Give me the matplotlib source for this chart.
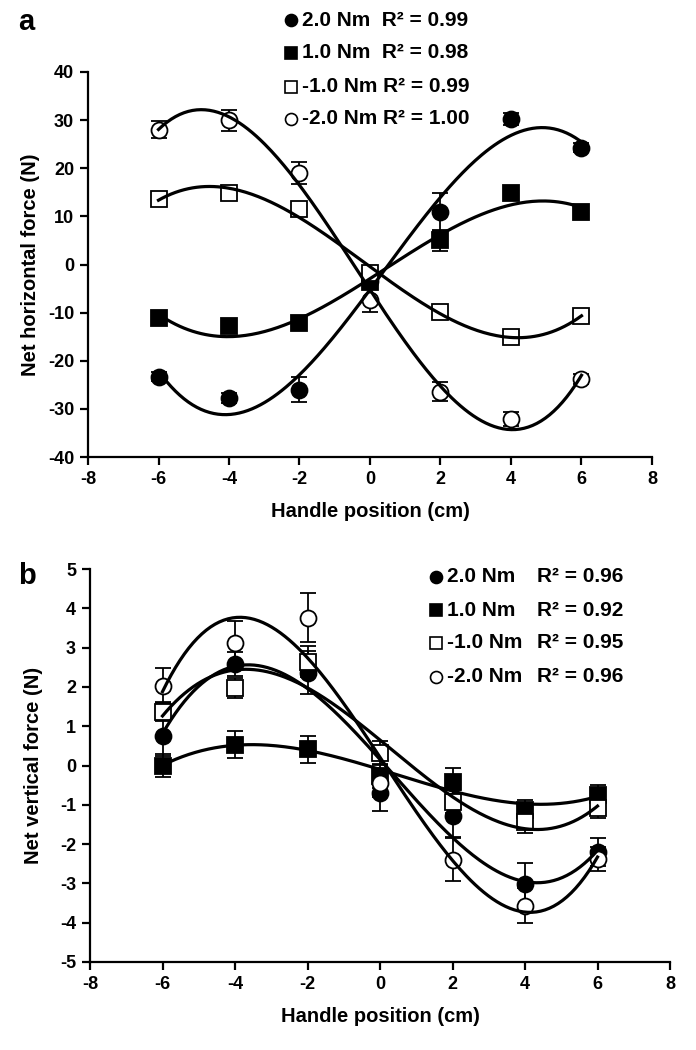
import numpy as np
import matplotlib
matplotlib.use("Agg")
import matplotlib.pyplot as plt
from matplotlib.lines import Line2D

plt.rcParams['font.family'] = ['Liberation Sans', 'DejaVu Sans']
plt.rcParams['font.weight'] = 'bold'
plt.rcParams['axes.unicode_minus'] = False

# ---------------- data ----------------
positions = [-6, -4, -2, 0, 2, 4, 6]
torques = ["2.0 Nm", "1.0 Nm", "-1.0 Nm", "-2.0 Nm"]

# panel a: net horizontal force (N)
horiz_p2 = [-23.3, -27.8, -26.0, -3.5, 10.9, 30.2, 24.3]
horiz_p1 = [-11.2, -12.8, -12.2, -3.6, 5.0, 14.8, 10.9]
horiz_m1 = [13.6, 14.8, 11.5, -1.8, -9.9, -15.1, -10.7]
horiz_m2 = [28.0, 30.0, 19.0, -7.4, -26.4, -32.1, -23.8]
horiz_err_p2 = [1.0, 1.0, 2.6, 1.0, 4.0, 1.2, 1.0]
horiz_err_p1 = [1.0, 1.0, 1.0, 1.0, 2.1, 1.0, 1.0]
horiz_err_m1 = [1.0, 1.0, 1.0, 1.0, 1.0, 1.0, 1.0]
horiz_err_m2 = [1.8, 2.2, 2.2, 2.5, 2.0, 1.5, 1.0]
r2_a = ["0.99", "0.98", "0.99", "1.00"]

# panel b: net vertical force (N)
vert_p2 = [0.74, 2.59, 2.36, -0.70, -1.28, -3.01, -2.20]
vert_p1 = [0.00, 0.53, 0.41, -0.26, -0.41, -1.13, -0.75]
vert_m1 = [1.37, 1.98, 2.64, 0.32, -0.92, -1.43, -1.08]
vert_m2 = [2.03, 3.12, 3.76, -0.44, -2.40, -3.57, -2.38]
vert_err_p2 = [0.50, 0.30, 0.55, 0.47, 0.55, 0.53, 0.35]
vert_err_p1 = [0.30, 0.35, 0.35, 0.30, 0.35, 0.25, 0.25]
vert_err_m1 = [0.25, 0.25, 0.40, 0.30, 0.30, 0.30, 0.25]
vert_err_m2 = [0.45, 0.55, 0.63, 0.35, 0.55, 0.45, 0.30]
r2_b = ["0.96", "0.92", "0.95", "0.96"]

markers = ['o', 's', 's', 'o']
fills = ['black', 'black', 'white', 'white']
msizes = [11.5, 11, 11, 11.5]

W, H = 696, 1050
fig = plt.figure(figsize=(W / 100, H / 100), dpi=100)


def draw_panel(ax, series, errs, ylim, yticks):
    x = np.array(positions, dtype=float)
    xs = np.linspace(x.min(), x.max(), 200)
    for i, (ys, es) in enumerate(zip(series, errs)):
        ys = np.array(ys)
        ax.errorbar(x, ys, yerr=es, fmt='none', ecolor='black', elinewidth=1.3,
                    capsize=5.5, capthick=1.3, zorder=2)
        ax.plot(x, ys, linestyle='none', marker=markers[i], markersize=msizes[i],
                markerfacecolor=fills[i], markeredgecolor='black', markeredgewidth=1.3,
                zorder=3)
        # third-order polynomial trend line (as in the original)
        coef = np.polyfit(x, ys, 3)
        ax.plot(xs, np.polyval(coef, xs), color='black', lw=2.3, zorder=4)
    ax.set_xlim(-8, 8)
    ax.set_xticks(range(-8, 9, 2))
    ax.set_ylim(*ylim)
    ax.set_yticks(yticks)
    for s in ['top', 'right']:
        ax.spines[s].set_visible(False)
    for s in ['left', 'bottom']:
        ax.spines[s].set_linewidth(1.6)
    ax.tick_params(direction='out', length=6, width=1.6, labelsize=13, pad=4)
    ax.set_xlabel("Handle position (cm)", fontsize=14.5, fontweight='bold', labelpad=10)


# panel a
axa = fig.add_axes([88 / W, 1 - 457 / H, (652 - 88) / W, (457 - 72) / H])
draw_panel(axa, [horiz_p2, horiz_p1, horiz_m1, horiz_m2],
           [horiz_err_p2, horiz_err_p1, horiz_err_m1, horiz_err_m2],
           (-40, 40), range(-40, 41, 10))
axa.set_ylabel("Net horizontal force (N)", fontsize=14.5, fontweight='bold', labelpad=6)

# panel b
axb = fig.add_axes([90 / W, 1 - 962 / H, (670 - 90) / W, (962 - 569) / H])
draw_panel(axb, [vert_p2, vert_p1, vert_m1, vert_m2],
           [vert_err_p2, vert_err_p1, vert_err_m1, vert_err_m2],
           (-5, 5), range(-5, 6, 1))
axb.set_ylabel("Net vertical force (N)", fontsize=14.5, fontweight='bold', labelpad=12)

fig.text(18 / W, 1 - 22 / H, "a", fontsize=21, fontweight='bold', va='center', ha='left')
fig.text(18 / W, 1 - 576 / H, "b", fontsize=21, fontweight='bold', va='center', ha='left')


def legend_rows(mx, tx, rx, ys, r2s):
    for i in range(4):
        y = 1 - ys[i] / H
        fig.add_artist(Line2D([mx / W], [y], marker=markers[i], markersize=msizes[i] * 0.75,
                              markerfacecolor=fills[i], markeredgecolor='black',
                              markeredgewidth=1.2, linestyle='none'))
        if rx is None:
            gap = "  " if not torques[i].startswith("-") else " "
            fig.text(tx / W, y, torques[i] + gap + "R\u00b2 = " + r2s[i], fontsize=15,
                     fontweight='bold', va='center', ha='left')
        else:
            fig.text(tx / W, y, torques[i], fontsize=15, fontweight='bold',
                     va='center', ha='left')
            fig.text(rx / W, y, "R\u00b2 = " + r2s[i], fontsize=15, fontweight='bold',
                     va='center', ha='left')


legend_rows(291, 302, None, [20, 53, 87, 119], r2_a)
legend_rows(436, 447, 537, [577, 610, 643, 677], r2_b)

fig.savefig("out.png", dpi=100)
